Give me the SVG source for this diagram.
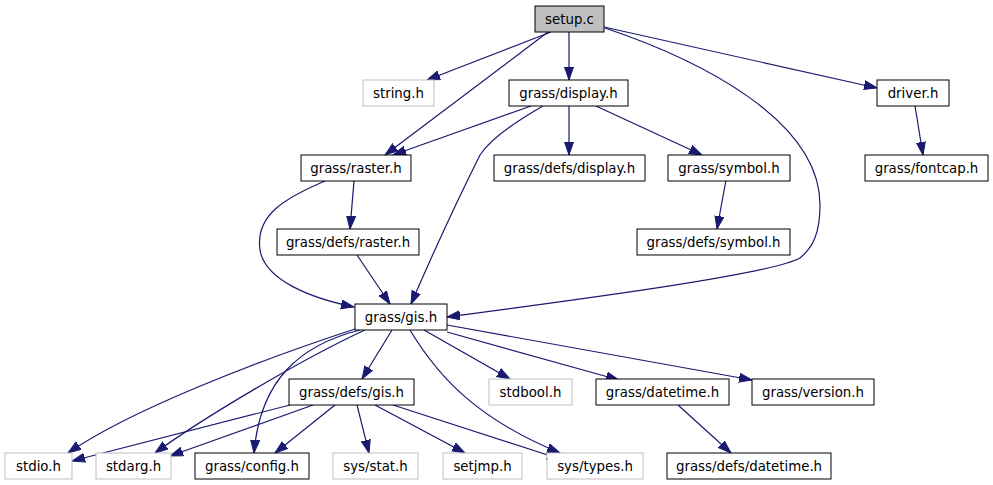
<svg xmlns="http://www.w3.org/2000/svg" width="993" height="485" viewBox="0 0 993 485">
<defs>
<style>
.n rect{fill:#ffffff;stroke:#000000;stroke-width:1}
.n.g rect{stroke:#bfbfbf}
.n.root rect{fill:#bfbfbf;stroke:#000000}
.n text{font-family:"DejaVu Sans","Liberation Sans",sans-serif;font-size:13.33px;text-anchor:middle;fill:#000000}
.e path{fill:none;stroke:#191970;stroke-width:1.2}
</style>
<marker id="a" markerUnits="userSpaceOnUse" markerWidth="14" markerHeight="11" refX="13" refY="5" orient="auto">
<path d="M0,0.5 L13,5 L0,9.5 z" fill="#191970" stroke="#191970" stroke-width="1"/>
</marker>
</defs>
<rect width="993" height="485" fill="#ffffff"/>
<g id="edges" class="e">
<path marker-end="url(#a)" d="M551,32 L427,80"/>
<path marker-end="url(#a)" d="M548,32 L385,155"/>
<path marker-end="url(#a)" d="M569,32 L569,80"/>
<path marker-end="url(#a)" d="M604,27 L877,88"/>
<path marker-end="url(#a)" d="M605,28 C700,60 820,120 820,205 C820,235 812,248 800,258 C770,275 560,302 447,317"/>
<path marker-end="url(#a)" d="M531,106 L393,155"/>
<path marker-end="url(#a)" d="M543,106 C515,122 490,140 480,155 C460,195 430,260 411,304"/>
<path marker-end="url(#a)" d="M569,106 L569,155"/>
<path marker-end="url(#a)" d="M596,106 L702,155"/>
<path marker-end="url(#a)" d="M915,106 L923,155"/>
<path marker-end="url(#a)" d="M726,180 L717,229"/>
<path marker-end="url(#a)" d="M354,181 L350,229"/>
<path marker-end="url(#a)" d="M325,181 C285,198 255,215 260,250 C265,280 310,298 354,307"/>
<path marker-end="url(#a)" d="M357,255 L390,304"/>
<path marker-end="url(#a)" d="M355,329 C260,360 130,410 68,453"/>
<path marker-end="url(#a)" d="M365,330 C300,360 200,420 155,453"/>
<path marker-end="url(#a)" d="M360,330 C300,345 260,380 254,453"/>
<path marker-end="url(#a)" d="M392,330 L362,379"/>
<path marker-end="url(#a)" d="M424,330 L510,379"/>
<path marker-end="url(#a)" d="M447,332 L619,380"/>
<path marker-end="url(#a)" d="M447,325 L752,380"/>
<path marker-end="url(#a)" d="M410,330 C440,380 480,420 560,453"/>
<path marker-end="url(#a)" d="M290,405 L72,461"/>
<path marker-end="url(#a)" d="M313,405 L170,456"/>
<path marker-end="url(#a)" d="M335,405 L275,453"/>
<path marker-end="url(#a)" d="M357,405 L369,453"/>
<path marker-end="url(#a)" d="M375,405 L465,453"/>
<path marker-end="url(#a)" d="M393,405 L560,459"/>
<path marker-end="url(#a)" d="M678,405 L731,453"/>
</g>
<g id="setup_c" class="n root"><rect x="535" y="6" width="69" height="26"/><text x="569.5" y="23.5">setup.c</text></g>
<g id="string_h" class="n g"><rect x="363" y="80" width="71" height="26"/><text x="398.5" y="97.5">string.h</text></g>
<g id="grass_display_h" class="n"><rect x="509" y="80" width="119" height="26"/><text x="568.5" y="97.5">grass/display.h</text></g>
<g id="driver_h" class="n"><rect x="877" y="80" width="72" height="26"/><text x="913" y="97.5">driver.h</text></g>
<g id="grass_raster_h" class="n"><rect x="301" y="155" width="110" height="26"/><text x="356" y="172.5">grass/raster.h</text></g>
<g id="grass_defs_display_h" class="n"><rect x="494" y="155" width="151" height="26"/><text x="569.5" y="172.5">grass/defs/display.h</text></g>
<g id="grass_symbol_h" class="n"><rect x="668" y="155" width="122" height="26"/><text x="729" y="172.5">grass/symbol.h</text></g>
<g id="grass_fontcap_h" class="n"><rect x="865" y="155" width="123" height="26"/><text x="926.5" y="172.5">grass/fontcap.h</text></g>
<g id="grass_defs_raster_h" class="n"><rect x="277" y="229" width="142" height="26"/><text x="348" y="246.5">grass/defs/raster.h</text></g>
<g id="grass_defs_symbol_h" class="n"><rect x="637" y="229" width="153" height="26"/><text x="713.5" y="246.5">grass/defs/symbol.h</text></g>
<g id="grass_gis_h" class="n"><rect x="355" y="304" width="92" height="26"/><text x="401" y="321.5">grass/gis.h</text></g>
<g id="grass_defs_gis_h" class="n"><rect x="289" y="379" width="125" height="26"/><text x="351.5" y="396.5">grass/defs/gis.h</text></g>
<g id="stdbool_h" class="n g"><rect x="489" y="379" width="83" height="26"/><text x="530.5" y="396.5">stdbool.h</text></g>
<g id="grass_datetime_h" class="n"><rect x="596" y="379" width="133" height="26"/><text x="662.5" y="396.5">grass/datetime.h</text></g>
<g id="grass_version_h" class="n"><rect x="752" y="379" width="122" height="26"/><text x="813" y="396.5">grass/version.h</text></g>
<g id="stdio_h" class="n g"><rect x="5" y="453" width="67" height="26"/><text x="38.5" y="470.5">stdio.h</text></g>
<g id="stdarg_h" class="n g"><rect x="96" y="453" width="75" height="26"/><text x="133.5" y="470.5">stdarg.h</text></g>
<g id="grass_config_h" class="n"><rect x="195" y="453" width="114" height="26"/><text x="252" y="470.5">grass/config.h</text></g>
<g id="sys_stat_h" class="n g"><rect x="333" y="453" width="85" height="26"/><text x="375.5" y="470.5">sys/stat.h</text></g>
<g id="setjmp_h" class="n g"><rect x="443" y="453" width="79" height="26"/><text x="482.5" y="470.5">setjmp.h</text></g>
<g id="sys_types_h" class="n g"><rect x="547" y="453" width="96" height="26"/><text x="595" y="470.5">sys/types.h</text></g>
<g id="grass_defs_datetime_h" class="n"><rect x="667" y="453" width="164" height="26"/><text x="749" y="470.5">grass/defs/datetime.h</text></g>
</svg>
